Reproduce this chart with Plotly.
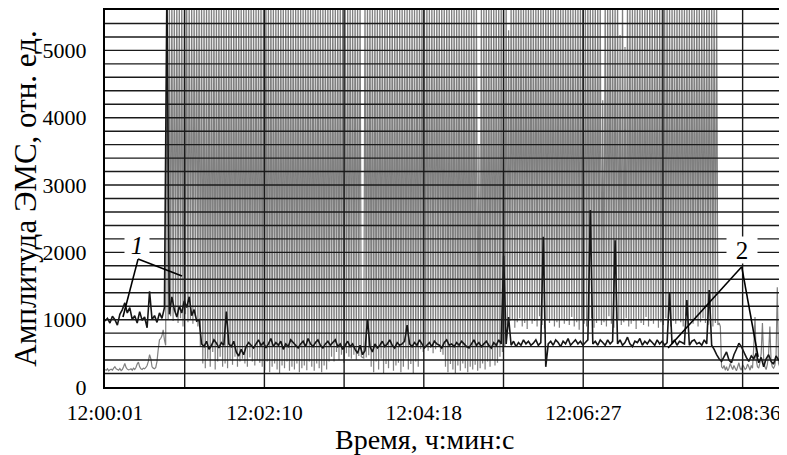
import plotly.graph_objects as go

# ---------------- data ----------------
# time in seconds from 12:00:01
x_tick_seconds = [0, 128.75, 257.5, 386.25, 515]
x_tick_labels = ["12:00:01", "12:02:10", "12:04:18", "12:06:27", "12:08:36"]
x_grid_seconds = [64.375, 128.75, 193.125, 257.5, 321.875, 386.25, 450.625, 515]
y_tick_values = [0, 1000, 2000, 3000, 4000, 5000]
y_grid_values = [200, 400, 600, 800, 1000, 1200, 1400, 1600, 1800, 2000, 2200, 2400,
                 2600, 2800, 3000, 3200, 3400, 3600, 3800, 4000, 4200, 4400, 4600,
                 4800, 5000, 5200, 5400]

# gray series (curve 2), 1 sample per second
gray_start = [260, 250, 270, 240, 255, 265, 250, 280, 300, 270,
              260, 250, 275, 245, 260, 300, 350, 290, 265, 255,
              260, 270, 250, 280, 260, 290, 340, 370, 300, 270,
              260, 280, 270, 290, 320, 380, 480, 420, 300, 280,
              270, 290]                                   # t 0-41
gray_rise = [380, 560, 700, 720, 760, 850, 700, 620]      # t 42-49
gray_early = [5900, 1000, 5900, 1050, 5900, 980, 5900, 1100, 5900, 950,
              5900, 1020, 5900, 900, 5900, 1080, 5900, 960, 5900, 1000,
              5900, 940, 5900, 1050, 5900, 900, 5900]     # t 50-76
# valleys at odd seconds t 77..497
gray_valley = [600, 350, 280, 420, 300, 520, 260, 380, 450, 300, 350, 280,
               400, 330, 450, 300, 380, 420, 350, 300, 440, 380, 320, 400, 360,
               300, 250, 380, 220, 300, 350, 260, 200, 320, 280, 380, 240, 300, 260,
               350, 220, 280, 320, 250, 380, 300, 240, 350, 280, 220, 320, 260, 380,
               450, 380, 520, 400, 480, 360, 500,
               450, 420, 480, 400, 460, 450, 430, 440, 470,
               300, 220, 380, 260, 420, 200, 340, 280, 400, 240, 320, 360, 220, 300,
               420, 260, 340, 200, 380, 300,
               560, 520, 600, 540, 580, 500, 560, 620, 520, 480,
               300, 220, 340, 260, 200, 320, 240, 350, 280, 220, 300, 260, 330, 240,
               280, 350, 260, 380, 300, 400, 320, 360,
               450, 520, 600,
               920, 980, 1000, 880, 960, 1020, 900, 950, 860, 1000,
               940, 980, 900, 1050, 920, 870, 990, 950, 1010, 900,
               960, 880, 1000, 940, 980, 920, 1040, 900, 960, 850,
               1000, 940, 900, 980, 1020, 880, 950, 1000, 920, 960,
               900, 1050, 940, 880, 980, 1000, 920, 960, 1020, 900,
               940, 980, 860, 1000, 950, 920, 1040, 900, 980, 940,
               1000, 880, 960, 920, 1020, 950, 900, 980, 940, 1000,
               960, 900, 1050, 920, 980, 940, 1000, 900, 960, 1020,
               950, 920, 940, 900, 950, 920, 900]
# peaks at even seconds t 78..496 (values above 5600 are clipped)
gray_peak = [5900, 5900, 5900, 5900, 5900, 5900, 5900, 5900, 5900, 5900,
             5900, 5900, 5900, 5900, 5900, 5900, 5900, 5900, 5900, 5900,
             5900, 5900, 5900, 5900, 5900, 5900, 5900, 5900, 5900, 5900,
             5900, 5900, 5900, 5900, 5900, 5900, 5900, 5900, 5900, 5900,
             5900, 5900, 5900, 5900, 5900, 5900, 5900, 5900, 5900, 5900,
             5900, 5900, 5900, 5900, 5900, 5900, 5900, 5900, 5900, 5900,
             5900, 5900, 5900, 5900, 5900, 440, 5900, 5900, 5900, 5900,
             5900, 5900, 5900, 5900, 5900, 5900, 5900, 5900, 5900, 5900,
             5900, 5900, 5900, 5900, 5900, 5900, 5900, 5900, 5900, 5900,
             5900, 5900, 5900, 5900, 5900, 5900, 5900, 5900, 5900, 5900,
             5900, 5900, 5900, 5900, 5900, 5900, 5900, 5900, 5900, 5900,
             5900, 5900, 3600, 5900, 5900, 5900, 5900, 5900, 5900, 5900,
             5900, 5900, 5900, 5900, 5300, 5900, 5900, 5900, 5900, 5900,
             5900, 5900, 5900, 5900, 5900, 5900, 5900, 5900, 5900, 5900,
             5900, 5900, 5900, 5900, 5900, 5900, 5900, 5900, 5900, 5900,
             5900, 5900, 5900, 5900, 5900, 5900, 5900, 5900, 5900, 5900,
             5900, 5900, 4260, 5900, 5900, 5900, 5900, 5900, 5900, 5230,
             5900, 5050, 5900, 5900, 5900, 5900, 5900, 5900, 5900, 5900,
             5900, 5900, 5900, 5900, 5900, 5900, 5900, 5900, 5900, 5900,
             5900, 5900, 5900, 5900, 5900, 5900, 5900, 5900, 5900, 5900,
             5900, 5900, 5900, 5900, 5900, 5900, 5900, 5900, 5900, 950]
gray_end = [300, 280, 320, 250, 300, 240, 280, 350, 300, 260,
            320, 280, 240, 300, 360, 280, 250, 330, 300, 260,
            280, 340, 300, 250, 320, 280, 600, 1040, 400, 300,
            280, 360, 500, 950, 420, 300, 260, 340, 500, 900,
            380, 300, 280, 320, 450, 1480, 350, 300]      # t 498-545

# black series (curve 1), 1 sample per 2 seconds, t 0..546
black_values = [980, 1020, 950, 1050, 1000, 920, 1080, 1150, 1250, 1100,
                1180, 1000, 1060, 950, 1120, 990, 1040, 880, 1420, 1000,
                1060, 960, 1100, 1020, 1180, 5900, 1080, 1340, 1150, 1040,
                1200, 1100, 1280, 1180, 1340, 1060, 1150, 980, 1000,
                640, 600, 680, 560, 620, 700, 650, 580, 660, 620, 1120,
                640, 600, 680, 520, 460, 560, 480, 600, 660, 620, 580,
                640, 700, 620, 660, 580, 640, 720, 600, 660, 620,
                680, 560, 640, 600, 700, 660, 620, 580, 640, 680,
                600, 720, 640, 600, 660, 700, 620, 580, 640, 680,
                620, 660, 700, 600, 640, 560, 620, 680, 600, 640,
                560, 500, 620, 480, 540, 1010, 600, 520, 640, 580,
                620, 680, 600, 640, 700, 620, 580, 660, 620, 640,
                680, 920, 640, 600, 660, 620, 700, 640, 580, 620,
                660, 600, 680, 640, 620, 580, 660, 700, 620, 640,
                600, 660, 620, 680, 640, 600, 580, 640, 700, 620,
                660, 600, 640, 680, 620, 580, 660, 620, 700, 640,
                1950, 640, 1040, 620, 680, 600, 660, 620, 700, 640,
                680, 620, 650, 700, 620, 660, 2230, 300, 640, 680,
                620, 700, 660, 600, 680, 640, 720, 620, 660, 700,
                640, 680, 620, 660, 700, 2630, 640, 680, 620, 700,
                660, 620, 700, 640, 680, 2180, 640, 700, 620, 660,
                740, 640, 600, 680, 660, 720, 620, 680, 640, 700,
                660, 620, 700, 640, 680, 620, 660, 1400, 640, 700,
                620, 680, 660, 640, 1290, 620, 680, 700, 640, 660,
                620, 700, 640, 1440, 620,
                560, 480, 420, 380, 450, 520, 400, 360, 480, 560,
                650, 600, 520, 440, 380, 460, 420, 500, 360, 440,
                300, 420, 480, 380, 340, 460, 400, 420]

# callouts
label_one = {"text": "1", "x": 25.8, "y": 2110, "vertex": (26.7, 1900),
             "ends": [(14.5, 1040), (62.2, 1650)]}
label_two = {"text": "2", "x": 514.3, "y": 2035, "vertex": (514.3, 1785),
             "ends": [(454.8, 580), (527.5, 446)]}
x_title = "Время, ч:мин:с"
y_title = "Амплитуда ЭМС, отн. ед."

# ---------------- build series ----------------
gray_mid = []
for i in range(len(gray_peak)):
    gray_mid.append(gray_valley[i])
    gray_mid.append(gray_peak[i])
gray_mid.append(gray_valley[-1])
gray_values = gray_start + gray_rise + gray_early + gray_mid + gray_end
gray_t = list(range(len(gray_values)))
black_t = [2 * i for i in range(len(black_values))]

X_MAX = 546
Y_MAX = 5600
SERIF = "Liberation Serif"

fig = go.Figure()
fig.add_trace(go.Scatter(x=gray_t, y=gray_values, mode="lines",
                         line=dict(color="#808080", width=1.2, simplify=False),
                         hoverinfo="skip", showlegend=False))
fig.add_trace(go.Scatter(x=black_t, y=black_values, mode="lines",
                         line=dict(color="#161616", width=1.6, simplify=False),
                         hoverinfo="skip", showlegend=False))

shapes = []
for gy in y_grid_values:
    shapes.append(dict(type="line", xref="paper", yref="y", x0=0, x1=1, y0=gy, y1=gy,
                       line=dict(color="#1a1a1a", width=1.4), layer="above"))
for gx in x_grid_seconds:
    shapes.append(dict(type="line", xref="x", yref="paper", x0=gx, x1=gx, y0=0, y1=1,
                       line=dict(color="#1a1a1a", width=1.4), layer="above"))
for lab in (label_one, label_two):
    vx, vy = lab["vertex"]
    for ex, ey in lab["ends"]:
        shapes.append(dict(type="line", xref="x", yref="y", x0=vx, y0=vy, x1=ex, y1=ey,
                           line=dict(color="black", width=1.6), layer="above"))

annotations = [
    dict(x=label_one["x"], y=label_one["y"], xref="x", yref="y", text="<i>1</i>",
         showarrow=False, font=dict(family=SERIF, size=25, color="black"),
         bgcolor="white", width=24, height=22, borderpad=0),
    dict(x=label_two["x"], y=label_two["y"], xref="x", yref="y", text="2",
         showarrow=False, font=dict(family=SERIF, size=25, color="black"),
         bgcolor="white", width=30, height=26, borderpad=0),
    dict(x=0.472, y=0, xref="paper", yref="paper", text=x_title, showarrow=False,
         xanchor="center", yanchor="middle", yshift=-52, borderpad=0,
         font=dict(family=SERIF, size=28, color="black")),
]

# the page adds an 8 px body margin; the figure is sized to land on the window
fig.update_layout(
    width=779, height=447,
    margin=dict(l=97, r=6, t=2, b=68, autoexpand=False),
    paper_bgcolor="white", plot_bgcolor="white",
    shapes=shapes, annotations=annotations,
    font=dict(family=SERIF, color="black"),
    xaxis=dict(range=[0, X_MAX], tickmode="array", tickvals=x_tick_seconds,
               ticktext=x_tick_labels, showgrid=False, zeroline=False,
               showline=True, mirror=True, linecolor="black", linewidth=2,
               ticks="", tickfont=dict(family=SERIF, size=21.5, color="black"),
               ticklabelstandoff=5, automargin=False),
    yaxis=dict(range=[0, Y_MAX], tickmode="array", tickvals=y_tick_values,
               showgrid=False, zeroline=False,
               showline=True, mirror=True, linecolor="black", linewidth=2,
               ticks="", tickfont=dict(family=SERIF, size=22, color="black"),
               ticklabelstandoff=12, automargin=False,
               title=dict(text=y_title, font=dict(family=SERIF, size=31),
                          standoff=2)),
)

fig.write_html("out.html")
